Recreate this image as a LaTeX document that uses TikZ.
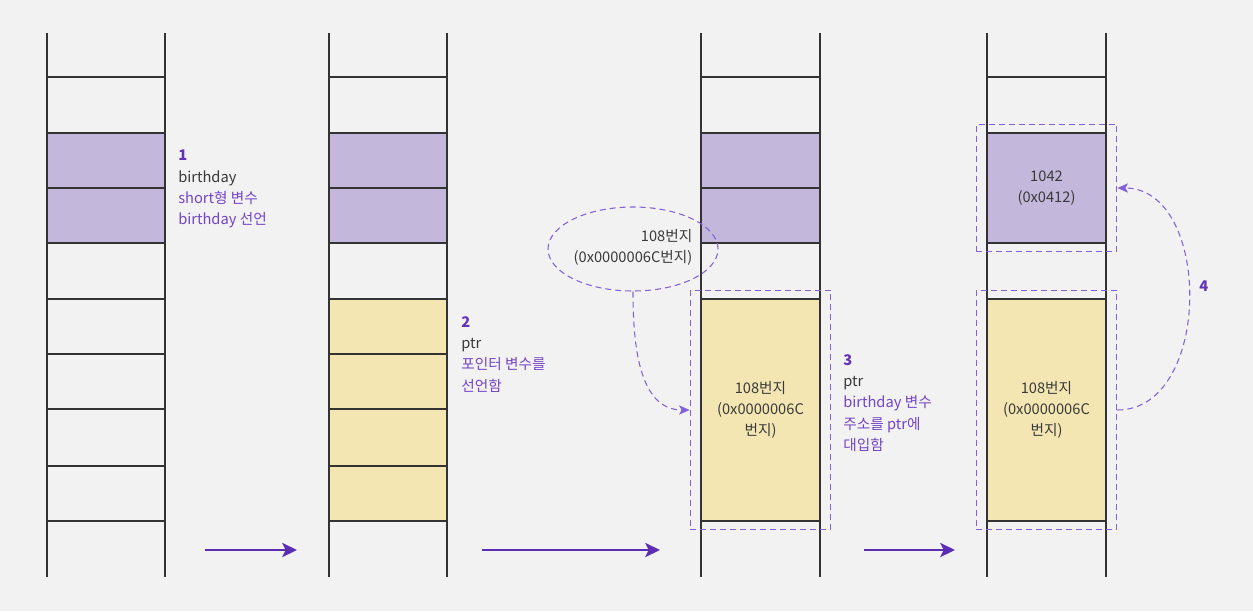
\documentclass[tikz,border=0pt]{standalone}
\usepackage{fontspec}
\setmainfont{Noto Sans CJK KR}
\usetikzlibrary{positioning, shapes.geometric, arrows.meta, fit}

\definecolor{bgc}{HTML}{F2F2F2}
\definecolor{wallc}{HTML}{333333}
\definecolor{lav}{HTML}{C3B7DB}
\definecolor{cream}{HTML}{F3E6B3}
\definecolor{txt}{HTML}{3A3A3A}
\definecolor{notec}{HTML}{7445C6}
\definecolor{numc}{HTML}{6434B8}
\definecolor{dashc}{HTML}{8461D6}
\definecolor{flowc}{HTML}{5A2DB3}

\begin{document}
\begin{tikzpicture}[x=0.75pt, y=-0.75pt, node distance=0pt,
  font=\fontsize{11}{16}\selectfont,
  wall/.style={draw=wallc, line width=0.9pt},
  cell/.style={draw=wallc, line width=0.9pt, minimum width=88.5pt,
    minimum height=41.25pt, inner sep=0pt, outer sep=0pt, align=center, text=txt},
  mem/.style={cell, fill=lav},
  ptrcell/.style={cell, fill=cream},
  note/.style={anchor=north west, align=left, text=notec, inner sep=0pt},
  sel/.style={draw=dashc, dash pattern=on 4.5pt off 3pt, line width=0.8pt,
    inner xsep=8.5pt, inner ysep=6.5pt},
  link/.style={draw=dashc, dash pattern=on 4.5pt off 3pt, line width=0.8pt,
    -{Stealth[length=8pt, width=7pt, inset=2pt]}},
  flow/.style={draw=flowc, line width=2pt,
    -{Stealth[length=11pt, width=10.5pt, inset=2.5pt]}}]
  \fill[bgc] (0,0) rectangle (1253,611);
  \useasboundingbox (0,0) rectangle (1253,611);

  % stack frames
  \draw[wall] (47,33) -- (47,577) (165,33) -- (165,577)
              (329,33) -- (329,577) (447,33) -- (447,577)
              (701,33) -- (701,577) (820,33) -- (820,577)
              (987,33) -- (987,577) (1106,33) -- (1106,577);
  \draw[wall] (47,77) -- (165,77) (47,299) -- (165,299) (47,354) -- (165,354)
              (47,409) -- (165,409) (47,466) -- (165,466) (47,521) -- (165,521)
              (329,77) -- (447,77) (701,77) -- (820,77) (987,77) -- (1106,77);

  % step 1
  \node[mem] (b1a) at (106,160.5) {};
  \node[mem] (b1b) [below=of b1a] {};
  \node[note] (n1) at (178,150) {{\bfseries\color{numc}1}\\
    {\color{txt}birthday}\\short형 변수\\birthday 선언};

  % step 2
  \node[mem] (b2a) at (388,160.5) {};
  \node[mem] (b2b) [below=of b2a] {};
  \node[ptrcell] (p2a) at (388,326.5) {};
  \node[ptrcell] (p2b) [below=of p2a] {};
  \node[ptrcell, minimum height=42.75pt] (p2c) [below=of p2b] {};
  \node[ptrcell] (p2d) [below=of p2c] {};
  \node[note] (n2) at (461,316) {{\bfseries\color{numc}2}\\
    {\color{txt}ptr}\\포인터 변수를\\선언함};

  % step 3
  \node[mem] (b3a) at (760.5,160.5) {};
  \node[mem] (b3b) [below=of b3a] {};
  \node[ptrcell, minimum height=166.5pt] (p3) at (760.5,410)
    {108번지\\(0x0000006C\\번지)};
  \node[sel, fit=(p3)] (s3) {};
  \node[ellipse, draw=dashc, dash pattern=on 4.5pt off 3pt, line width=0.8pt,
    minimum width=127.5pt, minimum height=63pt, inner sep=0pt, align=right,
    text=txt] (addr) at (633,249) {108번지\\(0x0000006C번지)\\[-11.5pt]};
  \node[note] (n3) at (843,354) {{\bfseries\color{numc}3}\\
    {\color{txt}ptr}\\birthday 변수\\주소를 ptr에\\대입함};

  % step 4
  \node[mem, minimum height=82.5pt] (b4) at (1046.5,188) {1042\\(0x0412)};
  \node[sel, fit=(b4)] (s4a) {};
  \node[ptrcell, minimum height=166.5pt] (p4) at (1046.5,410)
    {108번지\\(0x0000006C\\번지)};
  \node[sel, fit=(p4)] (s4b) {};
  \node[note] (n4) at (1199,281) {\bfseries\color{numc}4};

  \path[link] (addr.south) to[out=-90, in=180] (s3.west);
  \path[link] (s4b.east) to[out=0, in=0, looseness=1.1] (s4a.east);

  % order of the steps
  \coordinate (f1s) at (205,550); \coordinate (f1e) at (297,550);
  \coordinate (f2s) at (482,550); \coordinate (f2e) at (660,550);
  \coordinate (f3s) at (864,550); \coordinate (f3e) at (955,550);
  \draw[flow] (f1s) -- (f1e);
  \draw[flow] (f2s) -- (f2e);
  \draw[flow] (f3s) -- (f3e);
\end{tikzpicture}
\end{document}
